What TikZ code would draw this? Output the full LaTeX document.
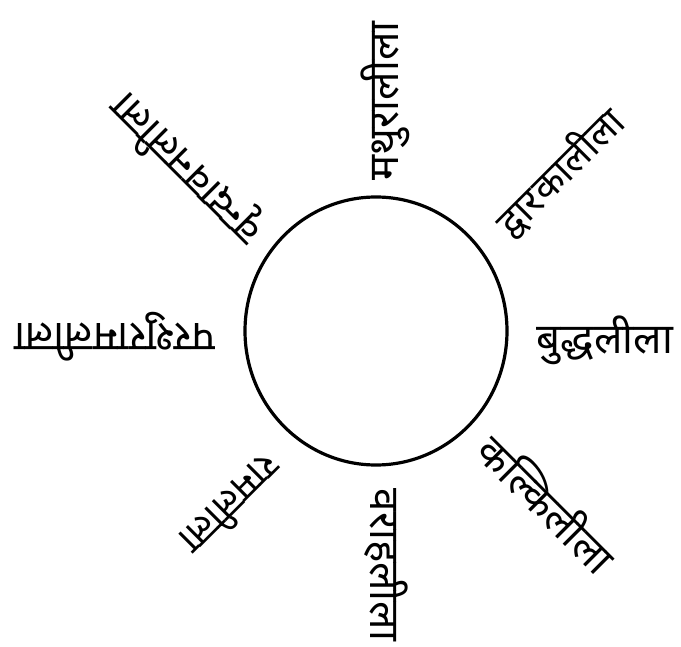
\documentclass[tikz,border=0pt]{standalone}
\usepackage{fontspec}
\newfontfamily\deva[Script=Devanagari]{Noto Sans}
\begin{document}
\begin{tikzpicture}[x=1pt,y=-1pt,
  lila/.style={font=\deva\fontsize{42}{48}\selectfont, inner sep=0pt, text=black},
  lilasmall/.style={lila, font=\deva\fontsize{39}{45}\selectfont},
  ring/.style={draw=black, line width=3.2pt}]
\useasboundingbox (0,0) rectangle (681,647);
\draw[ring] (376,331) ellipse [x radius=131, y radius=134];
\node[lila, rotate=90]       (mathura) at (385,101) {मथुरालीला};
\node[lilasmall, rotate=45]  (dwarka)  at (560,172) {द्वारकालीला};
\node[lila, rotate=0]        (buddha)  at (605,340) {बुद्धलीला};
\node[lila, rotate=-45]      (kalki)   at (548,503) {कल्किलीला};
\node[lila, rotate=-90]      (varaha)  at (386,565) {वराहलीला};
\node[lilasmall, rotate=225] (rama)    at (232,506) {रामलीला};
\node[lila, rotate=180]      (parashu) at (115,337) {परशुरामलीला};
\node[lila, rotate=135]      (vrinda)  at (187,168) {वृन्दावनलीला};
\end{tikzpicture}
\end{document}
